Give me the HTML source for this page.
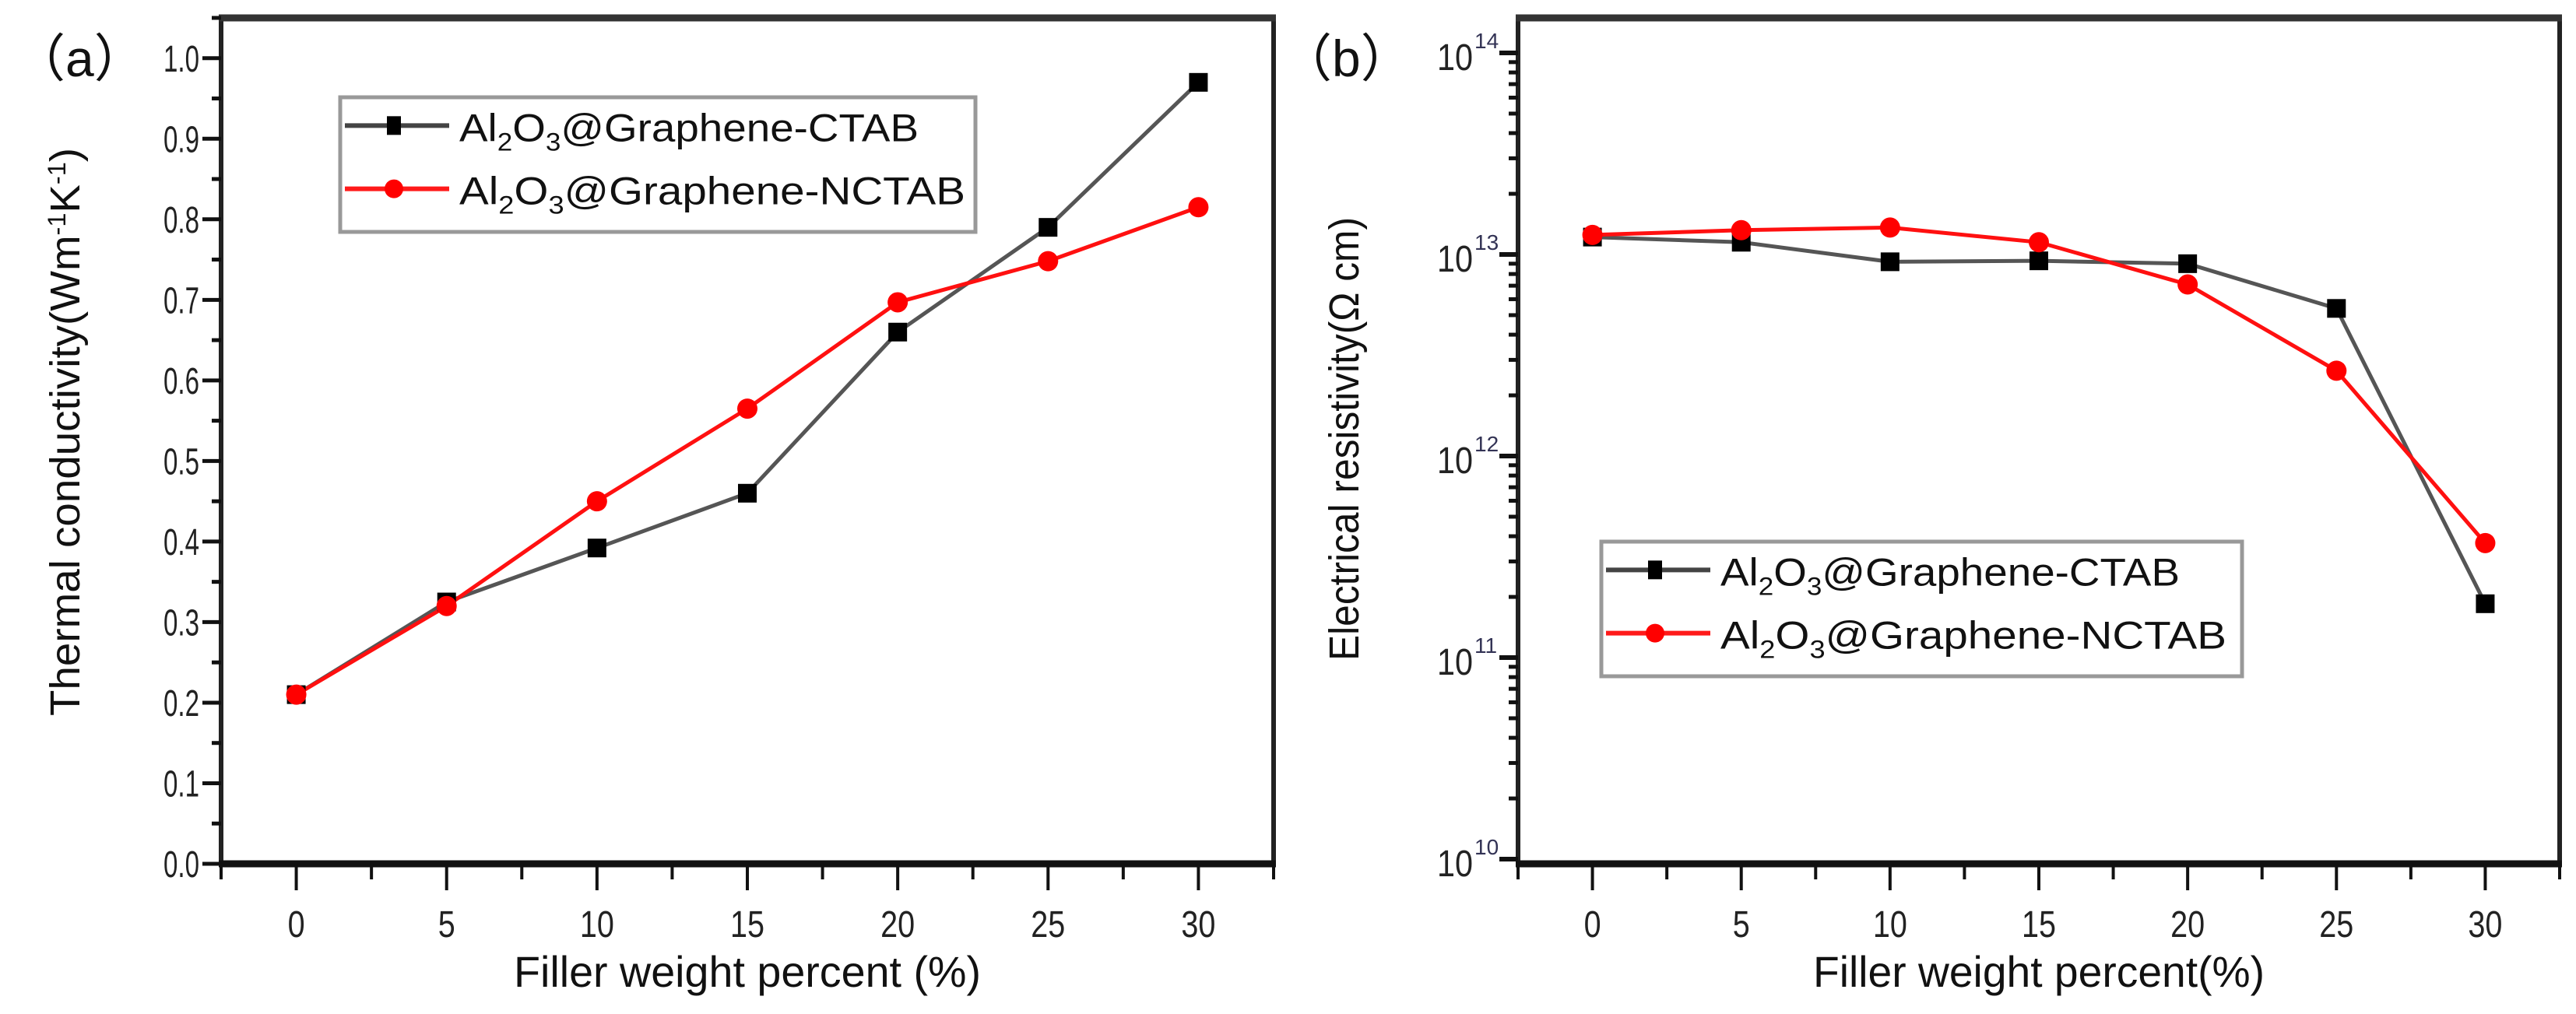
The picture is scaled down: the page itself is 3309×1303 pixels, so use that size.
<!DOCTYPE html>
<html><head><meta charset="utf-8"><style>
html,body{margin:0;padding:0;background:#fff;}
svg{display:block;font-family:"Liberation Sans",sans-serif;}
</style></head><body>
<svg id="fig" width="3309" height="1303" viewBox="0 0 3309 1303" xmlns="http://www.w3.org/2000/svg">
<text x="18" y="98" font-size="66" fill="#111">（a）</text>
<text x="1645" y="98" font-size="66" fill="#111">（b）</text>
<g id="pa"></g>
<g id="pb"></g>
</svg>
<script>
const xCats = [0, 5, 10, 15, 20, 25, 30];
const xTickLabels = ["0","5","10","15","20","25","30"];
const tcCTAB = [0.21, 0.325, 0.392, 0.46, 0.66, 0.79, 0.97];
const tcNCTAB = [0.21, 0.32, 0.45, 0.565, 0.697, 0.748, 0.815];
const tcTicks = [0.0,0.1,0.2,0.3,0.4,0.5,0.6,0.7,0.8,0.9,1.0];
const erCTAB = [1.22e13, 1.15e13, 9.2e12, 9.3e12, 9.0e12, 5.4e12, 1.85e11];
const erNCTAB = [1.25e13, 1.32e13, 1.36e13, 1.15e13, 7.1e12, 2.65e12, 3.7e11];
const erDecades = [10, 11, 12, 13, 14];
const seriesNames = ["CTAB", "NCTAB"];

const NS = "http://www.w3.org/2000/svg";
function mk(parent, tag, attrs){const e=document.createElementNS(NS,tag);for(const k in attrs)e.setAttribute(k,attrs[k]);parent.appendChild(e);return e;}

function legendText(g, x, y, name){
  const t = mk(g,"text",{x:x,y:y,"font-size":50,fill:"#111",textLength:name==="NCTAB"?650:590,lengthAdjust:"spacingAndGlyphs"});
  t.innerHTML = 'Al<tspan font-size="32" dy="12">2</tspan><tspan dy="-12">O</tspan><tspan font-size="32" dy="12">3</tspan><tspan dy="-12">@Graphene-'+name+'</tspan>';
  return t;
}

function drawPanel(g, cfg){
  const L=cfg.L,R=cfg.R,T=23,B=1110;
  const sx = v => L + (v+2.5)/35*(R-L);
  const sy = cfg.sy;
  mk(g,"rect",{x:L,y:T,width:R-L,height:B-T,fill:"none",stroke:"#222","stroke-width":6});
  mk(g,"line",{x1:L-3,y1:T,x2:R+3,y2:T,stroke:"#333","stroke-width":9});
  mk(g,"line",{x1:L-3,y1:B,x2:R+3,y2:B,stroke:"#111","stroke-width":9});
  for(let i=0;i<xCats.length;i++){
    const x=sx(xCats[i]);
    const tk=mk(g,"line",{x1:x,y1:B,x2:x,y2:B+34,stroke:"#111","stroke-width":4});
    
    
    const lb=mk(g,"text",{x:x,y:B+94,"font-size":48,"text-anchor":"middle",fill:"#222",textLength:xTickLabels[i].length*22,lengthAdjust:"spacingAndGlyphs"});
    lb.textContent=xTickLabels[i];
    
    
  }
  for(let v=-2.5; v<=32.5; v+=5){const x=sx(v);mk(g,"line",{x1:x,y1:B,x2:x,y2:B+20,stroke:"#111","stroke-width":4});}
  cfg.yaxis(g,L,sy);
  const xt=mk(g,"text",{x:(L+R)/2,y:1268,"font-size":56,"text-anchor":"middle",fill:"#111",textLength:cfg.xTitleLen,lengthAdjust:"spacingAndGlyphs"});
  xt.textContent=cfg.xTitle;
  
  
  const yt=mk(g,"text",{x:0,y:0,"font-size":54,"text-anchor":"middle",fill:"#111",transform:`translate(${cfg.ytx},${cfg.yty}) rotate(-90)`,textLength:cfg.yTitleLen,lengthAdjust:"spacingAndGlyphs"});
  yt.innerHTML=cfg.yTitle;
  
  
  const sets=[[cfg.a,"#555","sq"],[cfg.b,"#ff1010","ci"]];
  sets.forEach((s,si)=>{
    const pts=xCats.map((c,i)=>sx(c)+","+sy(s[0][i])).join(" ");
    const pl=mk(g,"polyline",{points:pts,fill:"none",stroke:s[1],"stroke-width":5});
    
    
  });
  sets.forEach((s,si)=>{
    xCats.forEach((c,i)=>{
      const x=sx(c),y=sy(s[0][i]);
      let m;
      if(s[2]==="sq") m=mk(g,"rect",{x:x-12,y:y-12,width:24,height:24,fill:"#000"});
      else m=mk(g,"circle",{cx:x,cy:y,r:13,fill:"#ff0000"});
      
      
    });
  });
  const lg=cfg.leg;
  const lgG=mk(g,"g",{});
  
  
  mk(lgG,"rect",{x:lg.x,y:lg.y,width:lg.w,height:lg.h,fill:"#fff",stroke:"#999","stroke-width":5});
  const rows=[[lg.y+lg.h*0.21,"#444","sq","CTAB"],[lg.y+lg.h*0.68,"#ff1a1a","ci","NCTAB"]];
  rows.forEach(r=>{
    const e=mk(lgG,"g",{});
    
    
    mk(e,"line",{x1:lg.x+6,y1:r[0],x2:lg.x+140,y2:r[0],stroke:r[1],"stroke-width":6});
    if(r[2]==="sq") mk(e,"rect",{x:lg.x+60,y:r[0]-12,width:18,height:24,fill:"#000"});
    else mk(e,"circle",{cx:lg.x+69,cy:r[0],r:12,fill:"#f00"});
    legendText(e,lg.x+153,r[0]+20,r[3]);
  });
}

const LA=284,RA=1636,yA=v=>1110-(v/1.05)*1087;
drawPanel(document.getElementById("pa"),{
  L:LA,R:RA,sy:yA,a:tcCTAB,b:tcNCTAB,
  xTitle:"Filler weight percent (%)",xTitleLen:600,
  yTitle:'Thermal conductivity(Wm<tspan font-size="32" dy="-18">-1</tspan><tspan dy="18">K</tspan><tspan font-size="32" dy="-18">-1</tspan><tspan dy="18">)</tspan>',
  yTitleLen:730,ytx:102,yty:555,
  leg:{x:437,y:125,w:816,h:173},
  yaxis:(g,L,sy)=>{
    tcTicks.forEach(v=>{
      const y=sy(v);
      mk(g,"line",{x1:L-24,y1:y,x2:L,y2:y,stroke:"#111","stroke-width":5});
      const t=mk(g,"text",{x:L-28,y:y+17,"font-size":48,"text-anchor":"end",fill:"#222",textLength:46,lengthAdjust:"spacingAndGlyphs"});
      t.textContent=v.toFixed(1);
      
      
    });
    for(let v=0.05;v<1.05;v+=0.1){const y=sy(v);mk(g,"line",{x1:L-12,y1:y,x2:L,y2:y,stroke:"#111","stroke-width":5});}
  }
});

const LB=1950,RB=3288;
const yB=v=>1104-(Math.log10(v)-10)*259;
drawPanel(document.getElementById("pb"),{
  L:LB,R:RB,sy:yB,a:erCTAB,b:erNCTAB,
  xTitle:"Filler weight percent(%)",xTitleLen:580,
  yTitle:'Electrical resistivity(Ω cm)',
  yTitleLen:570,ytx:1745,yty:564,
  leg:{x:2057,y:696,w:823,h:173},
  yaxis:(g,L,sy)=>{
    erDecades.forEach(d=>{
      const y=sy(Math.pow(10,d));
      mk(g,"line",{x1:L-24,y1:y,x2:L,y2:y,stroke:"#111","stroke-width":6});
      const t=mk(g,"text",{x:L-58,y:y+22,"font-size":48,"text-anchor":"end",fill:"#222",textLength:46,lengthAdjust:"spacingAndGlyphs"});
      t.textContent="10";
      
      
      const s=mk(g,"text",{x:L-56,y:y-6,"font-size":28,"text-anchor":"start",fill:"#335"});
      s.textContent=String(d);
      if(d<14){for(let k=2;k<10;k++){const yy=sy(k*Math.pow(10,d));mk(g,"line",{x1:L-12,y1:yy,x2:L,y2:yy,stroke:"#111","stroke-width":5});}}
    });
  }
});
</script>
</body></html>
